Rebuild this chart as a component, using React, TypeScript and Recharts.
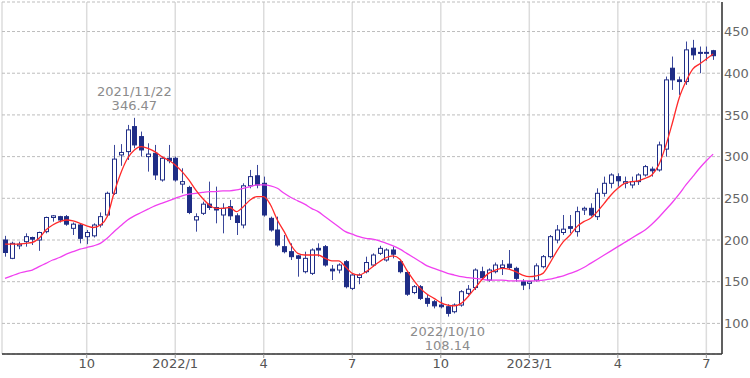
import { ComposedChart, Bar, Line, XAxis, YAxis, CartesianGrid, ReferenceDot } from "recharts";

// weekly candles, index 0 = 2021/7/12 ... 104 = 2023/7/10
const opens = [200, 178, 193, 198, 203, 200, 210, 227, 228, 228, 214, 218, 204, 205, 218, 230, 256, 302, 306, 336, 324, 300, 304, 272, 298, 298, 267, 263, 224, 232, 243, 239, 230, 240, 229, 218, 265, 277, 268, 226, 212, 192, 186, 181, 162, 160, 190, 192, 165, 164, 174, 142, 155, 162, 170, 184, 176, 188, 174, 161, 137, 144, 130, 126, 122, 120, 114, 122, 136, 143, 162, 152, 162, 167, 171, 166, 150, 148, 152, 168, 180, 200, 209, 216, 210, 236, 238, 228, 256, 268, 276, 268, 266, 270, 278, 285, 284, 309, 406, 392, 390, 430, 425, 424, 427];
const highs = [205, 198, 198, 208, 204, 210, 228, 230, 229, 230, 221, 220, 212, 220, 233, 258, 314, 315, 338, 346.47, 330, 316, 314, 300, 314, 300, 286, 265, 232, 246, 270, 264, 244, 248, 232, 268, 284, 290, 276, 228, 228, 206, 196, 182, 186, 190, 196, 194, 170, 172, 176, 160, 160, 180, 184, 193, 190, 192, 176, 162, 146, 146, 134, 128, 132, 123, 124, 140, 146, 166, 168, 166, 173, 176, 188, 168, 153, 151, 172, 182, 206, 218, 230, 230, 240, 240, 244, 262, 276, 280, 280, 276, 276, 280, 290, 288, 318, 396, 420, 396, 438, 440, 432, 432, 428];
const lows = [180, 177, 189, 192, 194, 187, 208, 222, 221, 217, 206, 196, 195, 203, 215, 228, 254, 289, 296, 310, 300, 282, 272, 270, 292, 270, 256, 231, 210, 230, 236, 220, 208, 224, 206, 214, 262, 262, 228, 210, 192, 184, 176, 156, 160, 158, 180, 168, 152, 160, 142, 140, 147, 160, 168, 182, 174, 178, 160, 133, 135, 128, 120, 118, 118, 108.14, 112, 120, 134, 140, 152, 150, 160, 158, 164, 150, 140, 141, 150, 166, 178, 196, 206, 208, 204, 230, 228, 224, 252, 262, 264, 262, 262, 266, 276, 276, 282, 300, 380, 374, 386, 416, 400, 415, 416];
const closes = [185, 196, 195, 204, 201, 209, 227, 229, 224, 219, 219, 202, 209, 218, 228, 256, 297, 305, 332, 314, 308, 303, 278, 298, 295, 272, 270, 233, 228, 243, 239, 236, 238, 229, 221, 265, 276, 266, 230, 212, 194, 186, 180, 178, 178, 188, 188, 170, 163, 170, 144, 158, 158, 173, 182, 190, 188, 183, 162, 135, 144, 130, 124, 121, 120, 112, 122, 138, 141, 164, 155, 164, 170, 170, 167, 154, 146, 150, 169, 180, 204, 212, 213, 214, 234, 238, 230, 256, 268, 278, 271, 270, 270, 278, 288, 283, 314, 392, 392, 390, 428, 422, 424, 425, 421];

// moving averages
const maShort = [195, 195, 195, 196, 197, 202, 212, 218, 222, 224, 223, 220, 217, 215, 218, 228, 256, 280, 298, 308, 312, 310, 306, 300, 296, 290, 282, 272, 260, 250, 242, 238, 238, 239, 234, 240, 248, 252, 252, 242, 224, 210, 194, 184, 182, 182, 182, 178, 175, 175, 168, 160, 158, 162, 168, 174, 179, 181, 177, 164, 152, 142, 135, 130, 125, 122, 121, 124, 132, 142, 152, 160, 164, 166, 165, 162, 158, 156, 157, 160, 172, 186, 198, 206, 216, 222, 226, 234, 244, 254, 262, 268, 270, 271, 274, 278, 290, 312, 340, 370, 390, 405, 411, 417, 423];
const maLong = [154, 157, 160, 162, 164, 168, 172, 176, 179, 183, 186, 189, 191, 193, 196, 202, 210, 217, 224, 229, 233, 237, 241, 244, 247, 250, 253, 255, 256, 257, 258, 258, 259, 259, 260, 262, 264, 266, 266, 265, 262, 256, 251, 247, 243, 238, 234, 228, 222, 216, 210, 207, 204, 202, 201, 199, 196, 193, 189, 184, 179, 174, 169, 166, 163, 160, 158, 156, 155, 154, 153, 152, 152, 152, 151, 151, 151, 151, 151, 152, 153, 155, 157, 160, 163, 167, 172, 177, 182, 187, 192, 197, 202, 207, 212, 219, 227, 236, 245, 255, 266, 276, 286, 295, 303];

const tickIdx = [12, 25, 38, 51, 64, 77, 90, 103];
const tickLabels = ["10", "2022/1", "4", "7", "10", "2023/1", "4", "7"];
const priceTicks = [100, 150, 200, 250, 300, 350, 400, 450];

const data = opens.map((o, i) => ({
  i, o, h: highs[i], l: lows[i], c: closes[i], ma1: maShort[i], ma2: maLong[i],
}));

const X_DOMAIN: [number, number] = [-0.44, 105.3];
const Y_DOMAIN: [number, number] = [63.3, 485.4];
const NAVY = "#1f2d86";

function Candle(props: any) {
  const { x, y, width, height, payload } = props;
  if (!payload || height == null) return null;
  const { o, h, l, c } = payload;
  const ppu = height / (h - l || 1);
  const yo = y + (h - o) * ppu;
  const yc = y + (h - c) * ppu;
  const cx = Math.round(x + width / 2) + 0.5;
  const top = Math.min(yo, yc);
  const bh = Math.max(1, Math.abs(yo - yc));
  const up = c >= o;
  return (
    <g>
      <line x1={cx} x2={cx} y1={y} y2={y + height} stroke="#3a479a" strokeWidth={1} />
      <rect x={cx - 2} y={top} width={4} height={bh} fill={up ? "#fff" : NAVY} stroke={NAVY} strokeWidth={1} />
    </g>
  );
}

function Note({ viewBox, lines, below }: any) {
  const cx = viewBox.x + (viewBox.width || 0) / 2;
  const cy = viewBox.y + (viewBox.height || 0) / 2;
  const y0 = below ? cy + 19 : cy - 22;
  return (
    <text x={cx} y={y0} textAnchor="middle" fill="#8c8c8c" fontSize={13}>
      <tspan x={cx} dy={0}>{lines[0]}</tspan>
      <tspan x={cx} dy={14}>{lines[1]}</tspan>
    </text>
  );
}

export default function App() {
  return (
    <div style={{ position: "absolute", left: 0, top: 0 }}>
      <ComposedChart width={750} height={378} data={data} margin={{ top: 2, right: 0, bottom: 0, left: 2 }}
        style={{ fontFamily: "DejaVu Sans, sans-serif", background: "#fff" }}>
        <CartesianGrid horizontal={false} stroke="#dcdcdc" strokeWidth={1.5} />
        <CartesianGrid vertical={false} stroke="#bdbdbd" strokeDasharray="3 2" />
        <XAxis dataKey="i" type="number" domain={X_DOMAIN} allowDataOverflow ticks={tickIdx}
          tickFormatter={(v) => tickLabels[tickIdx.indexOf(v)]} height={24}
          axisLine={{ stroke: "#333", strokeWidth: 1.5 }} tickLine={{ stroke: "#999" }} tickSize={4} tickMargin={1}
          tick={{ fill: "#555", fontSize: 13 }} />
        <XAxis xAxisId="frame" orientation="top" dataKey="i" type="number" domain={X_DOMAIN} allowDataOverflow
          height={0} tick={false} tickLine={false} axisLine={{ stroke: "#333", strokeWidth: 1.5 }} />
        <YAxis orientation="right" type="number" domain={Y_DOMAIN} allowDataOverflow ticks={priceTicks} width={28}
          axisLine={{ stroke: "#333", strokeWidth: 1.5 }} tickLine={false} tickSize={0} tickMargin={2}
          tick={{ fill: "#666", fontSize: 13 }} />
        <YAxis yAxisId="frame" orientation="left" type="number" domain={Y_DOMAIN} width={0} tick={false}
          tickLine={false} axisLine={{ stroke: "#333", strokeWidth: 1.5 }} />
        <Line dataKey="ma2" type="monotone" stroke="#f040f0" strokeWidth={1.3} dot={false} activeDot={false} isAnimationActive={false} />
        <Bar dataKey={(d: any) => [d.l, d.h]} barSize={5} shape={Candle} isAnimationActive={false} />
        <Line dataKey="ma1" type="monotone" stroke="#ff2a2a" strokeWidth={1.3} dot={false} activeDot={false} isAnimationActive={false} />
        <ReferenceDot x={19} y={346.47} r={0} stroke="none" fill="none"
          label={{ content: (p: any) => <Note {...p} lines={["2021/11/22", "346.47"]} /> }} />
        <ReferenceDot x={65} y={108.14} r={0} stroke="none" fill="none"
          label={{ content: (p: any) => <Note {...p} lines={["2022/10/10", "108.14"]} below /> }} />
      </ComposedChart>
    </div>
  );
}
